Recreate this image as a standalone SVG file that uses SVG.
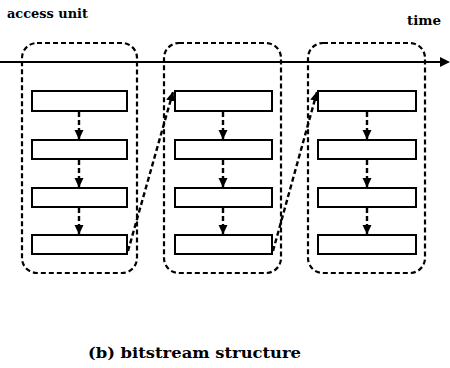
<svg xmlns="http://www.w3.org/2000/svg" width="450" height="368" viewBox="0 0 450 368">
<defs>
<style>
.t{font-family:"DejaVu Serif","Liberation Serif",serif;font-weight:bold;fill:#000}
.au{fill:none;stroke:#000;stroke-width:2.2;stroke-dasharray:5 3}
.nal{fill:#fff;stroke:#000;stroke-width:2}
.dep{fill:none;stroke:#000;stroke-width:2.4;stroke-dasharray:5 3}
.axis{stroke:#000;stroke-width:2}
</style>
<marker id="ah" markerWidth="10" markerHeight="10" refX="9" refY="5" orient="auto" markerUnits="userSpaceOnUse">
<path d="M0,0.5 L9.5,5 L0,9.5 Z" fill="#000"/>
</marker>
</defs>
<rect width="450" height="368" fill="#fff"/>
<text class="t" x="7" y="18" font-size="13" textLength="81" lengthAdjust="spacingAndGlyphs">access unit</text>
<text class="t" x="407" y="25" font-size="13" textLength="34" lengthAdjust="spacingAndGlyphs">time</text>
<text class="t" x="88" y="358" font-size="15" textLength="213" lengthAdjust="spacingAndGlyphs">(b) bitstream structure</text>

<g id="au1">
<rect class="au" x="22" y="43" width="115" height="230" rx="15"/>
</g>
<g id="au2">
<rect class="au" x="164" y="43" width="117" height="230" rx="15"/>
</g>
<g id="au3">
<rect class="au" x="308" y="43" width="117" height="230" rx="15"/>
</g>

<g id="timeaxis">
<line class="axis" x1="0" y1="62" x2="442" y2="62"/>
<path d="M440,57 L450,62 L440,67 Z" fill="#000"/>
</g>

<g id="n11"><rect class="nal" x="32" y="91" width="95" height="20"/></g>
<g id="n12"><rect class="nal" x="32" y="140" width="95" height="19"/></g>
<g id="n13"><rect class="nal" x="32" y="188" width="95" height="19"/></g>
<g id="n14"><rect class="nal" x="32" y="235" width="95" height="19"/></g>

<g id="n21"><rect class="nal" x="175" y="91" width="97" height="20"/></g>
<g id="n22"><rect class="nal" x="175" y="140" width="97" height="19"/></g>
<g id="n23"><rect class="nal" x="175" y="188" width="97" height="19"/></g>
<g id="n24"><rect class="nal" x="175" y="235" width="97" height="19"/></g>

<g id="n31"><rect class="nal" x="318" y="91" width="98" height="20"/></g>
<g id="n32"><rect class="nal" x="318" y="140" width="98" height="19"/></g>
<g id="n33"><rect class="nal" x="318" y="188" width="98" height="19"/></g>
<g id="n34"><rect class="nal" x="318" y="235" width="98" height="19"/></g>

<g id="connectors">
<line class="dep" x1="79" y1="112" x2="79" y2="139" marker-end="url(#ah)"/>
<line class="dep" x1="79" y1="160" x2="79" y2="187" marker-end="url(#ah)"/>
<line class="dep" x1="79" y1="208" x2="79" y2="234" marker-end="url(#ah)"/>
<line class="dep" x1="223" y1="112" x2="223" y2="139" marker-end="url(#ah)"/>
<line class="dep" x1="223" y1="160" x2="223" y2="187" marker-end="url(#ah)"/>
<line class="dep" x1="223" y1="208" x2="223" y2="234" marker-end="url(#ah)"/>
<line class="dep" x1="367" y1="112" x2="367" y2="139" marker-end="url(#ah)"/>
<line class="dep" x1="367" y1="160" x2="367" y2="187" marker-end="url(#ah)"/>
<line class="dep" x1="367" y1="208" x2="367" y2="234" marker-end="url(#ah)"/>
<line class="dep" x1="128" y1="251" x2="173" y2="92" marker-end="url(#ah)"/>
<line class="dep" x1="273" y1="251" x2="317" y2="92" marker-end="url(#ah)"/>
</g>
</svg>
